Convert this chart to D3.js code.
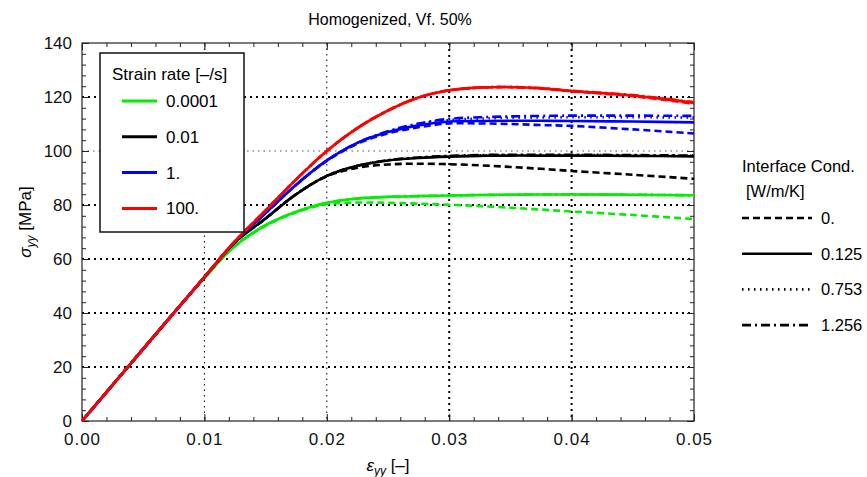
<!DOCTYPE html>
<html>
<head>
<meta charset="utf-8">
<script src="https://d3js.org/d3.v7.min.js"></script>
<style>
  body { margin: 0; background: #ffffff; font-family: 'Liberation Sans', Arial, sans-serif; }
  .tick text { font-family: 'Liberation Sans', Arial, sans-serif; fill: #111; }
  .curve { fill: none; stroke-width: 2.6; stroke-linejoin: round; }
</style>
</head>
<body>
<div id="chart"></div>
<script>

// strain values shared by every curve
var strain = [0, 0.005, 0.01, 0.0125, 0.015, 0.0175, 0.02, 0.0225, 0.025, 0.0275, 0.03, 0.0325, 0.035, 0.0375, 0.04, 0.045, 0.05]

// strain rates and interface conductances (legend labels)
var rates = ["0.0001", "0.01", "1.", "100."]
var conds = ["0.", "0.125", "0.753", "1.256"]

// stress [MPa] per strain rate, per interface condition
var green0    = [0, 26.7, 53.0, 64.8, 72.3, 77.3, 80.3, 80.9, 80.8, 80.5, 80.1, 79.6, 79.0, 78.3, 77.6, 76.3, 74.8]
var green125  = [0, 26.7, 53.0, 64.8, 72.5, 77.5, 80.8, 82.4, 83.0, 83.3, 83.5, 83.7, 83.8, 83.9, 83.9, 83.8, 83.6]
var green753  = [0, 26.7, 53.0, 64.8, 72.5, 77.5, 80.8, 82.4, 83.0, 83.3, 83.5, 83.7, 83.8, 83.9, 83.9, 83.8, 83.6]
var green1256 = [0, 26.7, 53.0, 64.8, 72.5, 77.5, 80.8, 82.4, 83.0, 83.3, 83.5, 83.7, 83.8, 83.9, 83.9, 83.8, 83.6]

var black0    = [0, 26.7, 53.3, 66.2, 75.0, 84.0, 90.6, 93.8, 95.0, 95.3, 95.1, 94.7, 94.1, 93.4, 92.6, 91.2, 89.7]
var black125  = [0, 26.7, 53.3, 66.2, 75.0, 84.0, 90.8, 94.5, 96.5, 97.4, 97.9, 98.2, 98.3, 98.3, 98.3, 98.2, 98.0]
var black753  = [0, 26.7, 53.3, 66.2, 75.0, 84.0, 90.8, 94.5, 96.6, 97.5, 98.1, 98.4, 98.5, 98.5, 98.5, 98.4, 98.2]
var black1256 = [0, 26.7, 53.3, 66.2, 75.0, 84.0, 90.8, 94.5, 96.6, 97.6, 98.2, 98.5, 98.6, 98.6, 98.6, 98.5, 98.3]

var blue0     = [0, 26.7, 53.3, 66.4, 77.0, 87.5, 96.3, 102.7, 106.5, 108.8, 110.2, 110.2, 110.0, 109.6, 109.3, 108.0, 106.5]
var blue125   = [0, 26.7, 53.3, 66.4, 77.0, 87.5, 96.5, 103.0, 107.0, 109.5, 110.9, 111.1, 111.2, 111.2, 111.1, 110.9, 110.6]
var blue753   = [0, 26.7, 53.3, 66.4, 77.0, 87.5, 96.5, 103.0, 107.2, 110.0, 111.5, 112.0, 112.3, 112.4, 112.5, 112.5, 112.4]
var blue1256  = [0, 26.7, 53.3, 66.4, 77.0, 87.5, 96.5, 103.0, 107.3, 110.2, 111.9, 112.5, 112.8, 113.0, 113.1, 113.1, 113.0]

var red0      = [0, 26.7, 53.3, 66.6, 78.0, 89.5, 100.0, 108.5, 115.0, 119.8, 122.5, 123.5, 123.6, 123.1, 122.1, 120.3, 117.5]
var red125    = [0, 26.7, 53.3, 66.6, 78.0, 89.5, 100.0, 108.5, 115.0, 119.8, 122.5, 123.5, 123.7, 123.2, 122.2, 120.5, 117.8]
var red753    = [0, 26.7, 53.3, 66.6, 78.0, 89.5, 100.0, 108.5, 115.0, 119.8, 122.5, 123.5, 123.7, 123.2, 122.3, 120.6, 118.0]
var red1256   = [0, 26.7, 53.3, 66.6, 78.0, 89.5, 100.0, 108.5, 115.0, 119.8, 122.5, 123.5, 123.7, 123.3, 122.3, 120.7, 118.1]

var stressByRate = [
  [green0, green125, green753, green1256],
  [black0, black125, black753, black1256],
  [blue0, blue125, blue753, blue1256],
  [red0, red125, red753, red1256]
]

// axis ticks
var xTicks = [0, 0.01, 0.02, 0.03, 0.04, 0.05]
var yTicks = [0, 20, 40, 60, 80, 100, 120, 140]

var colors = ["#00ee00", "#000000", "#0000ff", "#ff0000"]
var dashes = ["7,4", null, "1.5,4.5", "9,4,2,4"]

var width = 867, height = 477
var pLeft = 82, pRight = 694, pTop = 43, pBottom = 421

var x = d3.scaleLinear().domain([0, 0.05]).range([pLeft, pRight])
var y = d3.scaleLinear().domain([0, 140]).range([pBottom, pTop])

var svg = d3.select("#chart").append("svg")
  .attr("width", width)
  .attr("height", height)

// title
svg.append("text")
  .attr("x", 390).attr("y", 25)
  .attr("text-anchor", "middle")
  .style("font-size", "16px")
  .text("Homogenized, Vf. 50%")

// grid lines (dotted), some drawn lighter like the reference
var grid = svg.append("g")
grid.selectAll(".vgrid")
  .data(xTicks.slice(1, -1)).enter().append("line")
  .attr("x1", d => x(d)).attr("x2", d => x(d))
  .attr("y1", pTop).attr("y2", pBottom)
  .attr("stroke", "#000")
  .attr("stroke-width", d => d < 0.025 ? 1 : 2)
  .attr("stroke-dasharray", d => d < 0.025 ? "1.5,4" : "2,4")
grid.selectAll(".hgrid")
  .data(yTicks.slice(1, -1)).enter().append("line")
  .attr("x1", pLeft).attr("x2", pRight)
  .attr("y1", d => y(d)).attr("y2", d => y(d))
  .attr("stroke", d => d == 100 ? "#555" : "#000")
  .attr("stroke-width", d => d == 100 ? 1 : 2)
  .attr("stroke-dasharray", d => d == 100 ? "1.5,4" : "2,4")

// axes with inward ticks, minor ticks too
var xMinor = d3.range(0, 0.0501, 0.002)
var yMinor = d3.range(0, 140.1, 4)

function axisGroup(axis, tx, ty) {
  var g = svg.append("g").attr("transform", "translate(" + tx + "," + ty + ")").call(axis)
  g.select(".domain").remove()
  g.selectAll(".tick line").attr("stroke", "#222")
  return g
}

axisGroup(d3.axisBottom(x).tickValues(xMinor).tickSize(-4).tickFormat(""), 0, pBottom)
axisGroup(d3.axisTop(x).tickValues(xMinor).tickSize(-4).tickFormat(""), 0, pTop)
axisGroup(d3.axisLeft(y).tickValues(yMinor).tickSize(-4).tickFormat(""), pLeft, 0)
axisGroup(d3.axisRight(y).tickValues(yMinor).tickSize(-4).tickFormat(""), pRight, 0)

var xAxis = axisGroup(d3.axisBottom(x).tickValues(xTicks).tickSize(-7).tickPadding(12).tickFormat(d3.format(".2f")), 0, pBottom)
xAxis.selectAll("text").style("font-size", "17px").style("letter-spacing", "1px")
var yAxis = axisGroup(d3.axisLeft(y).tickValues(yTicks).tickSize(-7).tickPadding(10).tickFormat(d3.format("d")), pLeft, 0)
yAxis.selectAll("text").style("font-size", "17px")
axisGroup(d3.axisTop(x).tickValues(xTicks).tickSize(-7).tickFormat(""), 0, pTop)
axisGroup(d3.axisRight(y).tickValues(yTicks).tickSize(-7).tickFormat(""), pRight, 0)

// frame
svg.append("rect")
  .attr("x", pLeft).attr("y", pTop)
  .attr("width", pRight - pLeft).attr("height", pBottom - pTop)
  .attr("fill", "none").attr("stroke", "#222").attr("stroke-width", 1.2)

// curves
var line = d3.line()
  .x((d, i) => x(strain[i]))
  .y(d => y(d))
  .curve(d3.curveCatmullRom.alpha(0.5))

var curves = svg.append("g")
stressByRate.forEach(function (set, r) {
  // dashed variants first, solid on top
  [0, 2, 3, 1].forEach(function (c) {
    curves.append("path")
      .attr("class", "curve")
      .attr("d", line(set[c]))
      .attr("stroke", colors[r])
      .attr("stroke-dasharray", dashes[c])
  })
})

// axis labels
var yl = svg.append("text")
  .attr("transform", "translate(31,222) rotate(-90)")
  .attr("text-anchor", "middle")
  .style("font-size", "17px")
yl.append("tspan").style("font-style", "italic").text("σ")
yl.append("tspan").attr("dy", 4).style("font-size", "12px").style("font-style", "italic").text("yy")
yl.append("tspan").attr("dy", -4).text(" [MPa]")

var xl = svg.append("text")
  .attr("x", 388).attr("y", 471)
  .attr("text-anchor", "middle")
  .style("font-size", "17px")
xl.append("tspan").style("font-style", "italic").text("ε")
xl.append("tspan").attr("dy", 4).style("font-size", "12px").style("font-style", "italic").text("yy")
xl.append("tspan").attr("dy", -4).text(" [–]")

// strain rate legend
var lg = svg.append("g")
lg.append("rect")
  .attr("x", 100).attr("y", 53)
  .attr("width", 144).attr("height", 179)
  .attr("fill", "#fff").attr("stroke", "#111").attr("stroke-width", 1.5)
lg.append("text")
  .attr("x", 112).attr("y", 80)
  .style("font-size", "17px")
  .text("Strain rate [–/s]")
rates.forEach(function (d, i) {
  var yy = 101 + i * 35.8
  lg.append("line")
    .attr("x1", 122).attr("x2", 157)
    .attr("y1", yy).attr("y2", yy)
    .attr("stroke", colors[i]).attr("stroke-width", 3)
  lg.append("text")
    .attr("x", 166).attr("y", yy + 6)
    .style("font-size", "17px")
    .text(d)
})

// interface condition legend
var rg = svg.append("g")
rg.append("text")
  .attr("x", 742).attr("y", 172)
  .style("font-size", "16.5px")
  .text("Interface Cond.")
rg.append("text")
  .attr("x", 746).attr("y", 197)
  .style("font-size", "16.5px")
  .text("[W/m/K]")
conds.forEach(function (d, i) {
  var yy = 218 + i * 35.7
  rg.append("line")
    .attr("x1", 742).attr("x2", 812)
    .attr("y1", yy).attr("y2", yy)
    .attr("stroke", "#000").attr("stroke-width", 2.6)
    .attr("stroke-dasharray", dashes[i])
  rg.append("text")
    .attr("x", 821).attr("y", yy + 6)
    .style("font-size", "16.5px")
    .text(d)
})

</script>
</body>
</html>
